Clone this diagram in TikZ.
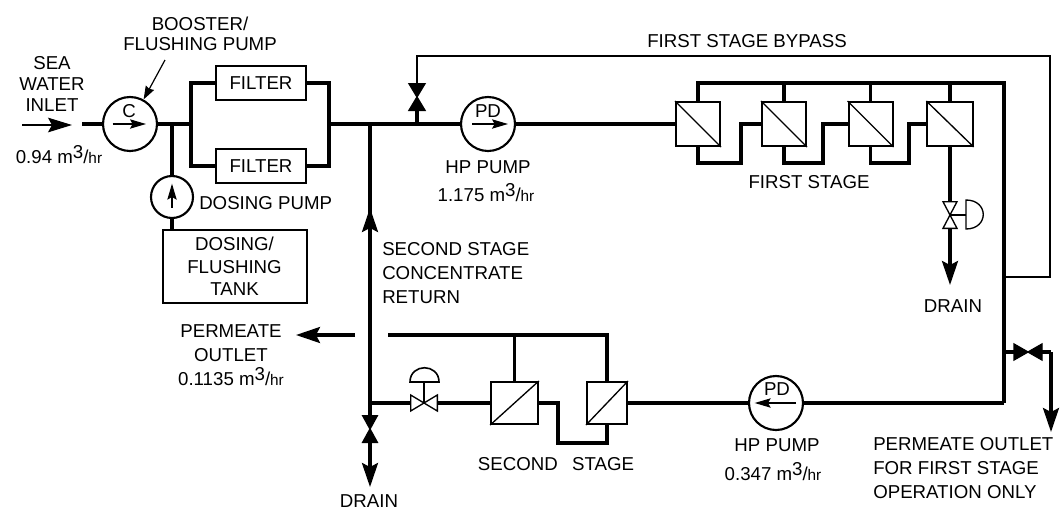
\documentclass[tikz,border=0pt]{standalone}
\usepackage{fontspec}
\setmainfont{Liberation Sans}
\usetikzlibrary{arrows.meta, positioning, calc}
\newcommand{\cubichr}{m\raisebox{0.5ex}{3}/{\fontsize{11.5}{12}\selectfont hr}}
\tikzset{
    pipe/.style={line width=2.3pt},
    pipetip/.style={line width=2.3pt,-{Stealth[length=18pt,width=12pt,inset=3pt]}},
    thintip/.style={line width=1pt,-{Stealth[length=18pt,width=11pt,inset=3pt]}},
    pumptip/.style={line width=0.9pt,-{Stealth[length=12pt,width=7pt,inset=2pt]}},
    pumpbox/.style={circle,draw,fill=white,line width=1.6pt,inner sep=0pt},
    tankbox/.style={rectangle,draw,fill=white,line width=1.5pt,inner sep=0pt,font=\fontsize{14}{17}\selectfont},
    membrane/.style={rectangle,draw,fill=white,line width=1.5pt,inner sep=0pt,minimum height=33pt,minimum width=33pt},
    lbl/.style={inner sep=0pt,font=\fontsize{14}{17}\selectfont,align=center},
    valvebox/.style={inner sep=0pt,outer sep=0pt},
    valveline/.style={draw,line width=1pt,line join=miter},
}
\begin{document}
\begin{tikzpicture}[x=0.75pt,y=-0.75pt]
    \useasboundingbox (0,0) rectangle (1060,511);

    % Inlet and filters
    \coordinate (inletfrom) at (22,125);
    \coordinate (inletto) at (72,125);
    \coordinate (inletpipe) at (82,124);
    \coordinate (splitl) at (191,124);
    \coordinate (splitr) at (329,124);
    \coordinate (dosej) at (172,124);
    \coordinate (mix) at (370,124);
    \coordinate (bypassj) at (417,124);
    \node[pumpbox,minimum size=40.5pt] (boost) at (130,124) {};
    \node[pumpbox,minimum size=31.5pt] (dose) at (172,197) {};
    \node[tankbox,minimum width=68pt,minimum height=25.5pt] (filtera) at (261,83) {FILTER};
    \node[tankbox,minimum width=68pt,minimum height=25pt] (filterb) at (261,166) {FILTER};
    \node[tankbox,minimum width=108pt,minimum height=55pt,align=center] (tank) at (234.5,266.5) {DOSING/\\FLUSHING\\TANK};
    \draw[thintip] (inletfrom) -- (inletto);
    \draw[pipe] (inletpipe) -- (boost.west);
    \draw[pipe] (boost.east) -- (splitl);
    \draw[pipe] (filtera.west) -| (splitl) |- (filterb.west);
    \draw[pipe] (filtera.east) -| (splitr) |- (filterb.east);
    \draw[pipe] (dosej) -- (dose.north);
    \draw[pipe] (dose.south) -- (dose.south |- tank.north);

    % Pump arrows
    \draw[pumptip] ([xshift=-13pt]boost.center) -- ([xshift=12pt]boost.center);
    \draw[pumptip] ([yshift=-8pt]dose.center) -- ([yshift=10pt]dose.center);

    % First stage
    \node[pumpbox,minimum size=40.5pt] (hpa) at (488,124) {};
    \node[membrane] (ma) at (698,124) {};
    \node[membrane] (mb) at (784,124) {};
    \node[membrane] (mc) at (870.5,124) {};
    \node[membrane,minimum width=34pt] (md) at (950,124) {};
    \coordinate (risea) at (741,163);
    \coordinate (riseb) at (823,163);
    \coordinate (risec) at (909,163);
    \coordinate (topj) at (1004,83);
    \coordinate (lowj) at (1004,403);
    \coordinate (bypcorner) at (1050,56);
    \coordinate (retj) at (1004,277);
    \draw[pipe] (splitr) -- (hpa.west);
    \draw[pipe] (hpa.east) -- (ma.west);
    \draw[pipe] (ma.south) |- (risea) |- (mb.west);
    \draw[pipe] (mb.south) |- (riseb) |- (mc.west);
    \draw[pipe] (mc.south) |- (risec) |- (md.west);
    \draw[pipe] (ma.north) |- (topj) -- (lowj);
    \draw[pipe] (mb.north) -- (mb.north |- topj);
    \draw[pipe] (mc.north) -- (mc.north |- topj);
    \draw[pipe] (md.north) -- (md.north |- topj);
    \draw[line width=1pt] (ma.north west) -- (ma.south east);
    \draw[line width=1pt] (mb.north west) -- (mb.south east);
    \draw[line width=1pt] (mc.north west) -- (mc.south east);
    \draw[line width=1pt] (md.north west) -- (md.south east);
    \draw[pumptip] ([xshift=-12pt]hpa.center) -- ([xshift=15pt]hpa.center);

    % Bypass valve
    \node[valvebox,minimum width=12pt,minimum height=20pt] (bypv) at (417,97) {};
    \draw[valveline,fill=black] (bypv.north west) -- (bypv.north east) -- (bypv.south west) -- (bypv.south east) -- cycle;
    \draw[pipe] (bypassj) -- (bypv.south);
    \draw[line width=1.7pt] (bypv.north) |- (bypcorner) |- (retj);

    % First stage drain
    \node[valvebox,minimum width=10.5pt,minimum height=20pt] (drainfs) at (950,215) {};
    \coordinate (fstip) at (950,285);
    \coordinate (actfs) at (966,215);
    \draw[valveline] (drainfs.north west) -- (drainfs.north east) -- (drainfs.south west) -- (drainfs.south east) -- cycle;
    \draw[pipe] (md.south) -- (drainfs.north);
    \draw[pipetip] (drainfs.south) -- (fstip);
    \draw[line width=1pt] (drainfs.center) -- (actfs);
    \draw[line width=1pt] (966,200) .. controls (989,200) and (989,229) .. (966,229) -- cycle;

    % Second stage
    \node[pumpbox,minimum size=40.5pt] (hpb) at (776,403) {};
    \node[membrane,minimum width=35pt,minimum height=31.5pt] (sa) at (514.5,403) {};
    \node[membrane,minimum width=30pt,minimum height=31.5pt] (sb) at (607,403) {};
    \node[valvebox,minimum width=20pt,minimum height=12pt] (ctrlv) at (424,403) {};
    \coordinate (lowmix) at (370,403);
    \coordinate (actctrl) at (424,382);
    \coordinate (permj) at (388,335);
    \coordinate (risel) at (558,443);
    \coordinate (permfrom) at (355,335);
    \coordinate (permto) at (296,335);
    \draw[pipe] (lowj) -- (hpb.east);
    \draw[pipe] (hpb.west) -- (sb.east);
    \draw[pipe] (sa.east) -| (risel) -| (sb.south);
    \draw[pipe] (sa.west) -- (ctrlv.east);
    \draw[pipe] (ctrlv.west) -- (lowmix);
    \draw[pipe] (permj) -| (sb.north);
    \draw[pipe] (sa.north) -- (sa.north |- permj);
    \draw[pipetip] (permfrom) -- (permto);
    \draw[line width=1pt] (sa.south west) -- (sa.north east);
    \draw[line width=1pt] (sb.south west) -- (sb.north east);
    \draw[valveline] (ctrlv.north west) -- (ctrlv.south west) -- (ctrlv.north east) -- (ctrlv.south east) -- cycle;
    \draw[line width=1pt] (ctrlv.center) -- (actctrl);
    \draw[line width=1.2pt] (410,382) .. controls (410,363) and (439,363) .. (439,382) -- cycle;
    \draw[pumptip] ([xshift=15pt]hpb.center) -- ([xshift=-16pt]hpb.center);

    % Return and drain
    \node[valvebox,minimum width=11pt,minimum height=20pt] (drainv) at (370,429) {};
    \coordinate (rettail) at (370,300);
    \coordinate (rettip) at (370,208);
    \coordinate (draintip) at (370,487);
    \draw[valveline,fill=black] (drainv.north west) -- (drainv.north east) -- (drainv.south west) -- (drainv.south east) -- cycle;
    \draw[pipe] (mix) -- (drainv.north);
    \draw[pipetip] (rettail) -- (rettip);
    \draw[pipetip] (drainv.south) -- (draintip);

    % Permeate valve
    \node[valvebox,minimum width=21pt,minimum height=12pt] (permv) at (1028,352) {};
    \coordinate (permj2) at (1004,352);
    \coordinate (permcorner) at (1051,352);
    \coordinate (permtip) at (1051,432);
    \draw[valveline,fill=black] (permv.north west) -- (permv.south west) -- (permv.north east) -- (permv.south east) -- cycle;
    \draw[pipe] (permj2) -- (permv.west);
    \draw[pipe] (permv.east) -- (permcorner);
    \draw[pipetip] (permcorner) -- (permtip);

    % Labels
    \node[lbl] (boostlbl) at (200,34) {BOOSTER/\\[-2pt]FLUSHING PUMP};
    \coordinate (boosttail) at (165,60);
    \draw[line width=0.9pt,-{Stealth[length=10pt,width=7pt,inset=1pt]}] (boosttail) -- (boost.61);
    \node[lbl] (sealbl) at (52,84) {SEA\\[-1pt]WATER\\[-1pt]INLET};
    \node[lbl] (flowin) at (59,155) {0.94 \cubichr};
    \node[lbl] (boostc) at (129,111) {C};
    \node[lbl,anchor=west] (doselbl) at (199,203) {DOSING PUMP};
    \node[lbl] (bypasslbl) at (747,41) {FIRST STAGE BYPASS};
    \node[lbl] (hpapd) at (488,111) {PD};
    \node[lbl] (hpaname) at (488,167) {HP PUMP};
    \node[lbl] (flowhpa) at (486,193) {1.175 \cubichr};
    \node[lbl] (firstlbl) at (809,182) {FIRST STAGE};
    \node[lbl] (drainfslbl) at (953,306) {DRAIN};
    \node[lbl,anchor=west,align=left] (returnlbl) at (382,273) {SECOND STAGE\\[1pt]CONCENTRATE\\[1pt]RETURN};
    \node[lbl] (permlbl) at (231,355) {PERMEATE\\[1pt]OUTLET\\[1pt]0.1135 \cubichr};
    \node[lbl] (secondlbl) at (556,464) {SECOND\hspace{0.5em} STAGE};
    \node[lbl] (drainlbl) at (369,501) {DRAIN};
    \node[lbl] (hpbpd) at (777,389) {PD};
    \node[lbl] (hpbname) at (777,445) {HP PUMP};
    \node[lbl] (flowhpb) at (773,472) {0.347 \cubichr};
    \node[lbl,anchor=west,align=left] (outletlbl) at (873,468) {PERMEATE OUTLET\\[1pt]FOR FIRST STAGE\\[1pt]OPERATION ONLY};
\end{tikzpicture}
\end{document}
